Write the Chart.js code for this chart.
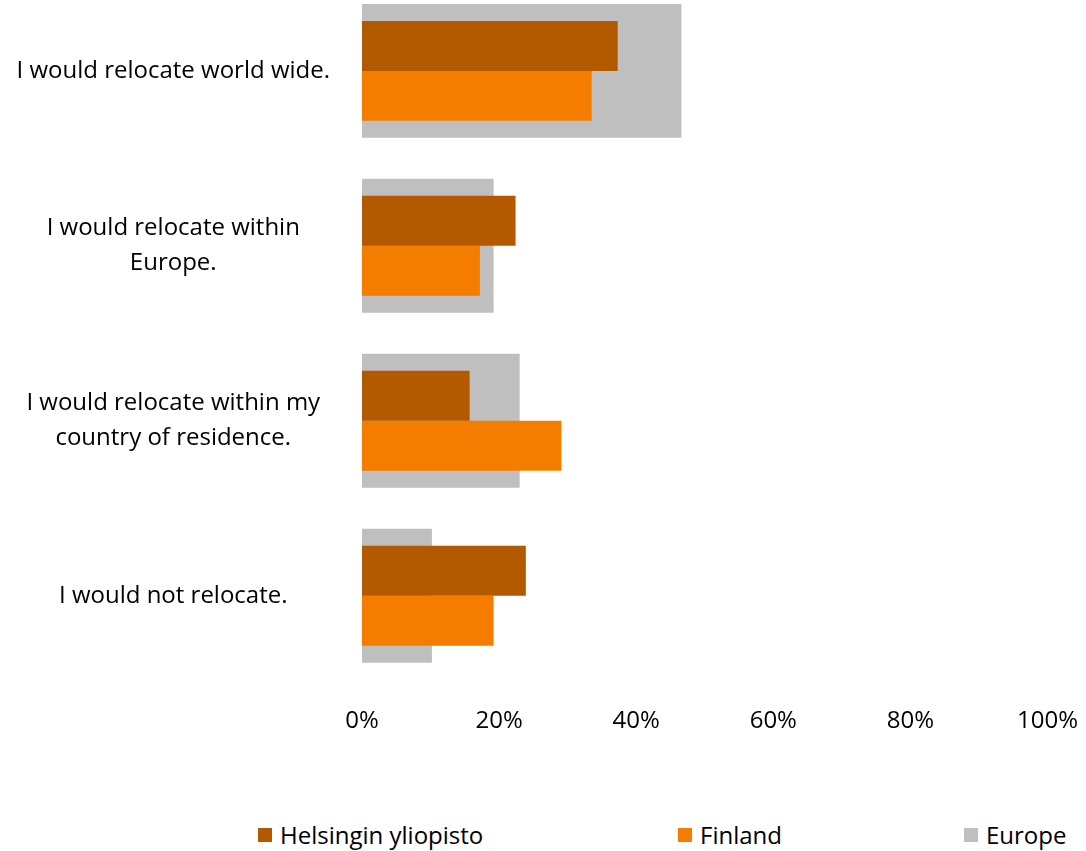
<!DOCTYPE html>
<html>
<head>
<meta charset="utf-8">
<script src="https://cdn.jsdelivr.net/npm/chart.js@4.4.0/dist/chart.umd.min.js"></script>
<style>
  html, body { margin: 0; padding: 0; background: #fff; overflow: hidden; }
  body { width: 1086px; height: 851px; position: relative; }
  #wrap { position: absolute; left: 0; top: -66px; width: 1102px; height: 826px; }
  #legend { position: absolute; left: 258px; top: 818px; display: flex; align-items: center;
            font-family: 'Open Sans', sans-serif; font-size: 24px; color: #000; }
  #legend .item { display: flex; align-items: center; }
  #legend .box { width: 14px; height: 14px; margin-right: 8px; }
</style>
</head>
<body>
<div id="wrap"><canvas id="relocChart"></canvas></div>
<div id="legend"></div>
<script>
// categories (tick labels, one array entry per line)
const categories = [
    'I would relocate world wide.',
    ['I would relocate within', 'Europe.'],
    ['I would relocate within my', 'country of residence.'],
    'I would not relocate.'
];
const seriesNames = ['Helsingin yliopisto', 'Finland', 'Europe'];
// percentages
const helsinki = [37.3, 22.4, 15.7, 23.9];
const finland = [33.5, 17.2, 29.1, 19.2];
const europe = [46.6, 19.2, 23.0, 10.2];
const xTicks = [0, 20, 40, 60, 80, 100];

const colors = ['#B35A00', '#F47D00', '#BFBFBF'];
const widths = [362, 420, 286];

// simple html legend built from chart's own legend items
const htmlLegend = {
    id: 'htmlLegend',
    afterUpdate(chart) {
        const box = document.getElementById('legend');
        box.innerHTML = '';
        const items = chart.options.plugins.legend.labels.generateLabels(chart);
        items.forEach((it, i) => {
            const el = document.createElement('div');
            el.className = 'item';
            if (i === 0) el.style.width = widths[1] + 'px';
            if (i === 1) el.style.width = widths[2] + 'px';
            const sw = document.createElement('span');
            sw.className = 'box';
            sw.style.background = it.fillStyle;
            const tx = document.createElement('span');
            tx.textContent = it.text;
            el.appendChild(sw);
            el.appendChild(tx);
            box.appendChild(el);
        });
    }
};

const ctx = document.getElementById('relocChart').getContext('2d');
new Chart(ctx, {
    type: 'bar',
    data: {
        labels: categories,
        datasets: [{
            label: seriesNames[0],
            data: helsinki,
            backgroundColor: colors[0],
            categoryPercentage: 100 / 175,
            barPercentage: 1
        }, {
            label: seriesNames[1],
            data: finland,
            backgroundColor: colors[1],
            categoryPercentage: 100 / 175,
            barPercentage: 1
        }, {
            label: seriesNames[2],
            data: europe,
            backgroundColor: colors[2],
            grouped: false,
            categoryPercentage: 134 / 175,
            barPercentage: 1
        }]
    },
    options: {
        indexAxis: 'y',
        responsive: true,
        maintainAspectRatio: false,
        animation: false,
        plugins: {
            legend: { display: false },
            tooltip: { enabled: false }
        },
        scales: {
            x: {
                min: 0,
                max: 100,
                afterBuildTicks: (scale) => {
                    scale.ticks = xTicks.map(v => ({ value: v }));
                },
                grid: { display: false, drawTicks: false },
                border: { display: false },
                ticks: {
                    padding: 24,
                    color: '#000',
                    font: { family: 'Open Sans', size: 24 },
                    maxRotation: 0,
                    callback: (v) => v + '%'
                }
            },
            y: {
                afterFit: (scale) => { scale.width = widths[0]; },
                grid: { display: false, drawTicks: false },
                border: { display: false },
                ticks: {
                    padding: 32,
                    crossAlign: 'center',
                    color: '#000',
                    font: { family: 'Open Sans', size: 24, lineHeight: 1.45 }
                }
            }
        }
    },
    plugins: [htmlLegend]
});
</script>
</body>
</html>
